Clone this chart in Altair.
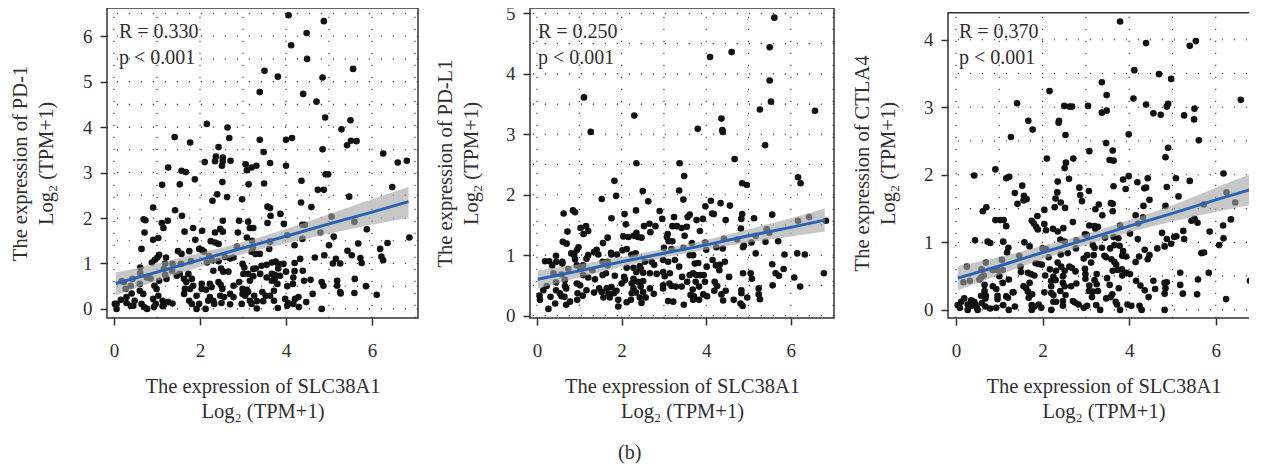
import altair as alt
import pandas as pd

FONT = "Liberation Serif"
INK = "#2f2f2f"

# Panel (a-1): PD-1
p1_x = [4.06,4.88,4.48,4.12,4.49,3.50,3.81,4.85,5.56,3.39,4.40,4.71,4.91,5.50,5.29,2.16,2.64,2.68,1.41,1.77,3.39,4.0,4.14,5.51,5.64,5.42,4.85,2.43,3.48,6.26,6.60,6.81,
2.37,2.53,2.35,2.53,2.71,2.51,2.11,3.06,3.31,3.20,3.09,3.63,4.0,1.26,1.57,1.67,1.88,1.12,1.53,2.52,3.13,3.49,4.36,4.92,4.98,4.74,4.88,6.47,5.47,2.40,2.29,2.63,2.98,4.35,3.57,3.63,4.59,.91,1.42,1.58,3.87,3.64,.69,.73,1.25,1.11,1.15,2.53,2.91,3.12,3.57,3.95,4.38,4.44,5.06,5.59,.71,1.64,1.84,2.05,2.35,2.47,2.53,2.88,3.16,3.24,5.88,4.80,5.11,1.03,.91,1.89,2.25,2.35,2.43,3.09,3.21,4.38,4.03,3.63,6.87,.64,1.49,1.57,1.75,1.98,2.04,2.09,2.86,3.23,3.20,5.68,4.20,5.0,3.61,6.19,6.36,5.43,3.29,3.39,1.05,1.01,1.21,.95,.88,1.79,2.21,2.28,2.16,2.43,2.58,2.70,2.78,4.67,4.89,4.33,5.16,5.53,5.73,6.22,6.26,5.09,5.26,5.76,4.20,
.61,.61,1.19,1.36,1.56,1.16,1.35,1.53,1.46,1.19,1.22,1.05,.76,.85,.60,.39,.23,.18,.27,.43,.94,.99,.60,.41,.68,.29,.06,.16,.02,.06,.48,.45,.29,.39,.64,.70,.77,.91,.97,1.03,1.13,1.16,1.26,1.36,.93,1.13,1.63,1.73,1.81,1.68,1.84,1.65,1.77,1.63,1.92,1.75,1.81,1.98,1.92,2.13,2.04,2.23,2.04,2.14,2.27,2.43,2.48,2.52,2.23,2.31,2.19,2.33,2.47,2.56,2.50,2.70,2.78,2.70,2.97,2.78,2.91,2.99,3.09,2.99,3.12,3.05,3.16,3.26,3.32,3.32,3.20,2.99,3.03,2.31,2.49,2.54,2.66,3.01,3.12,3.24,3.30,3.43,3.55,3.67,3.76,3.82,3.94,3.82,4.0,3.67,3.74,3.16,3.24,3.40,3.55,3.67,3.74,3.86,3.80,3.72,3.45,3.53,3.63,3.47,3.72,3.81,4.03,4.17,4.16,4.20,4.39,4.42,4.57,4.62,4.83,4.87,3.98,4.05,4.03,4.21,4.29,4.17,4.30,4.47,4.83,5.19,5.19,5.60,5.26,5.27,5.59,5.86,6.11]
p1_y = [6.46,6.33,6.07,5.80,5.50,5.24,5.11,5.09,5.28,4.77,4.73,4.56,4.21,4.15,3.95,4.07,3.99,3.76,3.78,3.66,3.72,3.72,3.76,3.70,3.69,3.60,3.51,3.56,3.45,3.42,3.22,3.26,
3.35,3.33,3.25,3.25,3.26,3.15,3.23,3.18,3.15,3.11,3.05,3.21,3.15,3.11,3.04,3.01,2.85,2.73,2.74,2.79,2.74,2.76,2.82,2.96,2.96,2.62,2.62,2.68,2.47,2.52,2.38,2.46,2.41,2.34,2.25,2.22,2.24,2.23,2.17,2.05,2.09,2.05,1.97,1.95,1.94,1.89,1.78,1.94,1.94,1.92,1.89,1.87,1.85,1.85,2.03,1.92,1.68,1.70,1.78,1.72,1.68,1.76,1.70,1.68,1.78,1.78,1.75,1.68,1.59,1.56,1.52,1.52,1.49,1.46,1.43,1.57,1.50,1.54,1.62,1.48,1.57,1.32,1.27,1.21,1.27,1.32,1.30,1.26,1.37,1.35,1.26,1.44,1.40,1.40,1.32,1.32,1.45,1.28,1.21,1.21,1.19,1.13,1.13,1.08,1.02,1.05,1.17,1.07,1.02,1.05,1.14,1.11,1.13,1.13,1.18,1.10,1.10,1.18,1.12,1.15,1.07,1.0,1.0,1.01,1.01,
.91,.79,1.0,.99,.99,.88,.84,.77,.73,.75,.66,.62,.69,.67,.55,.51,.59,.61,.44,.66,.51,.44,.40,.34,.33,.26,.11,.20,.11,0,.18,.07,.13,.07,.11,.04,0,.22,.11,.29,.18,.09,.15,.12,.04,.06,.66,.77,.66,.59,.51,.44,.44,.33,.29,.18,.11,.11,0,0,.55,.55,.44,.42,.48,.59,.53,.44,.26,.18,.18,.11,.29,.26,.13,.33,.26,.10,.11,.51,.59,.44,.42,.33,.37,.29,.18,.29,.01,.17,.11,.99,.91,.84,.89,.82,.82,.77,.77,.88,.89,.95,.97,1.02,1.04,.99,.99,.89,.82,.77,.75,.62,.72,.77,.69,.62,.67,.73,.55,.40,.37,.29,.29,.17,.18,.02,.50,.69,.55,.83,.84,.62,.64,.33,.59,.51,.22,.13,.07,.22,.26,.11,.04,.15,0,.62,.51,.66,.37,.34,.35,.50,.31]

# Panel (a-2): PD-L1
p2_x = [5.61,5.50,4.09,4.60,5.50,5.53,1.11,2.30,5.27,6.57,4.36,1.27,3.80,4.38,4.39,5.39,4.67,2.35,3.37,3.48,6.17,6.23,1.83,4.85,4.96,2.50,3.36,1.87,1.53,3.46,2.63,4.11,3.98,4.34,4.56,.63,.85,.90,2.34,2.07,2.90,4.14,4.18,4.85,5.56,3.61,3.56,3.24,1.76,2.96,3.77,3.92,4.46,4.83,5.13,6.17,6.43,6.83,2.10,2.66,2.53,2.80,3.20,3.31,3.42,3.54,1.16,1.03,1.21,1.10,.72,3.85,2.68,2.35,4.82,5.43,5.49,3.09,2.04,2.16,2.29,2.38,2.47,1.67,3.49,3.07,4.42,5.17,3.11,3.20,4.73,5.70,.61,.70,1.56,3.66,5.40,3.98,5.07,.98,.94,3.0,3.46,4.0,4.24,4.39,4.89,4.87,2.12,2.02,3.18,1.41,1.35,1.45,1.21,1.17,1.75,1.76,1.89,2.23,2.33,.45,.81,.88,.90,.19,.29,.36,.46,.60,.60,.94,1.09,.74,1.02,1.55,1.67,1.31,1.55,1.63,1.67,1.84,2.06,2.12,2.28,2.43,2.55,2.71,2.77,2.98,3.10,3.26,3.36,3.61,3.69,3.73,3.81,4.01,4.15,4.23,4.32,4.44,4.31,5.56,5.64,5.72,5.83,5.85,6.15,6.33,6.08,6.78,6.22,5.57,5.17,4.87,5.05,5.08,4.54,4.20,4.26,4.19,4.36,4.46,4.40,4.65,4.83,4.83,4.97,4.81,4.86,5.24,5.24,5.27,
2.28,2.24,2.28,2.24,2.35,2.45,2.51,2.39,2.51,2.45,2.51,2.34,2.43,2.57,2.47,2.67,2.76,2.67,2.83,2.98,3.02,3.14,2.98,3.13,2.98,3.18,3.28,3.42,3.10,3.22,3.47,3.43,3.55,3.61,3.69,3.77,3.85,3.94,3.75,3.97,3.83,3.68,3.63,3.71,3.69,3.83,3.93,4.02,
.06,.07,.15,.27,.32,.45,.43,.54,.58,.65,.69,.78,.66,.69,.94,1.02,.96,1.08,.95,1.17,1.35,1.09,1.21,1.37,.23,.45,.66,.58,.39,1.47,1.53,1.57,1.65,1.69,1.72,1.76,1.82,1.88,1.92,1.92,2.0,2.08,2.12,2.22]
p2_y = [4.93,4.44,4.28,4.36,3.89,3.54,3.61,3.31,3.41,3.39,3.26,3.04,3.09,3.07,3.04,2.82,2.59,2.52,2.52,2.31,2.29,2.19,2.23,2.19,2.16,2.06,2.07,1.98,1.93,1.92,1.89,1.90,1.81,1.86,1.82,1.69,1.74,1.71,1.74,1.68,1.73,1.69,1.68,1.68,1.67,1.67,1.63,1.63,1.61,1.60,1.58,1.60,1.58,1.60,1.61,1.57,1.63,1.57,1.51,1.52,1.48,1.48,1.48,1.48,1.45,1.47,1.48,1.45,1.40,1.35,1.39,1.40,1.38,1.37,1.44,1.43,1.37,1.35,1.31,1.30,1.32,1.30,1.29,1.29,1.32,1.30,1.27,1.32,1.23,1.23,1.26,1.23,1.22,1.19,1.20,1.20,1.22,1.21,1.21,1.13,1.08,1.12,1.12,1.09,1.13,1.11,1.16,1.13,1.10,1.08,1.10,1.09,1.05,1.01,1.0,.94,1.04,1.01,1.01,1.01,1.03,.99,1.03,1.0,.93,.90,.90,.83,.89,.86,.89,.83,.83,.77,.78,.89,.89,.75,.67,.70,.83,.66,.64,.79,.79,.82,.89,.89,.84,.92,.89,.92,.81,1.0,1.0,.86,.87,.81,.92,.83,.84,.89,.75,.85,.70,.66,.77,1.01,1.03,1.01,.63,.70,.48,.50,1.03,.70,.70,.61,.64,.56,.49,.41,.35,.41,.25,.26,.42,.37,.30,.20,.16,.45,.35,.27,
.61,.53,.45,.37,.72,.78,.71,.56,.57,.48,.39,.38,.30,.30,.21,.45,.36,.70,.69,.72,.65,.70,.50,.53,.45,.49,.48,.48,.24,.23,.18,.64,.56,.67,.70,.67,.67,.67,.56,.56,.48,.43,.34,.32,.26,.26,.35,.32,
.33,.26,.42,.11,.31,.42,.20,.37,.32,.31,.18,.23,.49,.45,.53,.50,.37,.33,.26,.42,.38,.67,.63,.60,.49,.55,.59,.68,.70,.45,.39,.30,.45,.37,.30,.47,.37,.41,.26,.15,.53,.59,.22,.26]

# Panel (a-3): CTLA4
p3_x = [3.79,4.39,5.40,5.54,4.12,4.69,4.97,3.37,2.16,3.48,4.10,6.58,1.41,4.39,4.90,4.87,5.51,2.50,2.62,2.68,3.05,3.37,3.48,4.56,4.73,5.27,5.50,1.67,2.38,2.37,1.77,2.53,3.99,1.27,5.61,3.47,4.90,3.62,3.08,4.84,2.10,2.71,3.55,3.64,2.54,2.51,.91,.42,6.18,1.23,1.16,3.99,3.86,2.61,4.43,5.08,5.40,2.35,4.19,1.53,3.64,2.85,4.35,4.39,4.87,3.92,3.07,2.34,1.36,2.87,1.57,5.14,6.25,2.30,1.63,1.56,4.47,2.91,2.42,1.42,3.58,3.62,3.30,4.33,4.84,6.45,5.72,2.28,2.52,.70,.62,3.22,3.62,2.04,1.88,3.38,4.15,6.35,4.32,.91,1.02,1.10,1.75,1.80,2.70,2.04,4.21,5.44,5.51,5.58,1.16,3.08,3.79,6.17,1.85,2.24,3.20,3.28,1.89,2.08,2.48,2.35,3.22,5.25,5.86,4.02,2.98,3.02,4.76,5.09,5.04,6.85,3.44,3.64,3.75,4.20,4.87,5.27,6.18,.44,.73,.79,1.09,1.58,2.41,2.51,2.78,4.97,6.08,3.66,3.78,3.16,1.70,1.21,2.0,2.08,2.77,3.20,3.37,3.56,4.36,4.65,4.82,1.18,3.86,5.67,5.73,3.93,4.47,1.46,2.42,2.58,3.03,3.18,3.43,2.14,2.95,3.84,4.23,.69,1.06,4.43,4.15,3.12,3.47,3.59,3.66,3.70,2.35,1.84,1.91,1.98,.25,.59,.85,.96,1.08,1.49,1.50,2.17,2.43,2.62,2.68,2.98,3.62,3.74,3.83,3.93,4.02,5.18,5.84,2.31,2.51,2.76,1.66,1.73,1.81,2.06,2.99,3.25,3.84,2.47,2.25,.58,.64,1.0,1.22,2.99,3.20,3.49,5.59,6.79,.17,.32,.54,1.08,1.70,2.20,2.30,2.47,2.78,4.16,4.56,4.82,4.87,.66,.85,1.56,1.62,2.20,2.51,2.66,3.08,3.25,3.55,4.26,5.18,.66,.93,1.66,2.04,2.20,2.41,3.07,3.16,3.28,3.76,4.36,4.60,4.84,1.31,.58,.69,.96,1.16,1.33,1.76,1.68,2.25,2.53,3.14,3.47,3.61,3.57,4.45,4.82,5.24,5.57,6.24,.19,.12,.35,.42,.60,.68,.96,1.20,2.31,2.25,2.47,2.70,2.75,2.83,3.69,3.72,.04,.09,.27,.35,.48,.50,.27,.45,.68,.79,.93,1.09,1.22,1.36,1.75,1.75,1.81,1.91,1.97,2.20,2.47,2.95,3.03,3.24,3.33,3.79,3.96,4.05,4.24,4.29,4.82]
p3_y = [4.27,3.95,3.91,3.98,3.55,3.49,3.42,3.37,3.24,3.18,3.13,3.11,3.06,3.04,3.05,3.01,2.98,3.02,3.01,3.01,3.02,2.92,2.95,2.91,2.89,2.88,2.82,2.80,2.80,2.77,2.67,2.59,2.60,2.56,2.51,2.47,2.40,2.36,2.35,2.26,2.24,2.24,2.22,2.21,2.18,2.10,2.08,1.99,2.02,1.97,1.95,1.98,1.93,1.94,1.95,1.95,1.91,1.90,1.89,1.84,1.83,1.81,1.80,1.81,1.82,1.79,1.76,1.74,1.73,1.70,1.69,1.68,1.74,1.65,1.64,1.62,1.63,1.61,1.59,1.57,1.58,1.57,1.56,1.54,1.54,1.59,1.56,1.52,1.51,1.52,1.46,1.49,1.46,1.48,1.39,1.40,1.40,1.34,1.37,1.33,1.33,1.33,1.32,1.28,1.30,1.27,1.28,1.32,1.35,1.29,1.24,1.25,1.25,1.25,1.23,1.20,1.24,1.23,1.19,1.18,1.21,1.16,1.20,1.17,1.16,1.13,1.12,1.11,1.14,1.09,1.08,1.10,1.07,1.08,1.06,1.05,1.05,1.05,1.06,1.03,1.01,.99,1.01,1.0,1.04,1.01,1.03,.98,.96,.96,.95,.96,.94,.92,.91,.90,.91,.92,.92,.91,.89,.91,.94,.85,.87,.84,.85,.79,.81,.80,.82,.84,.81,.81,.80,.78,.76,.80,.79,.70,.74,.75,.71,.70,.78,.75,.71,.67,.70,.69,.68,.67,.64,.60,.59,.59,.59,.64,.56,.60,.64,.64,.62,.61,.58,.59,.60,.55,.53,.55,.55,.58,.58,.57,.55,.53,.51,.51,.53,.53,.51,.50,.49,.48,.51,.50,.45,.46,.44,.47,.45,.43,.41,.43,.45,.40,.40,.43,.44,.40,.39,.43,.43,.40,.41,.37,.35,.35,.32,.35,.35,.35,.36,.38,.37,.36,.37,.28,.31,.27,.26,.25,.28,.28,.27,.28,.32,.29,.31,.32,.26,.21,.21,.21,.20,.26,.23,.18,.22,.22,.19,.17,.23,.19,.19,.24,.24,.23,.16,.17,.12,.14,.12,.10,.17,.16,.18,.12,.12,.13,.13,.11,.08,.12,.08,.07,.03,0,.06,.03,0,.08,.08,.05,.02,.03,.07,0,.05,.07,0,.05,.08,.03,0,.06,.03,.06,.07,0,0,.08,.06,.06,0,0]

# Fitted lines and confidence bands
band_x1 = [0.04,1,2,3,4,5,6,6.85]
line_1 = [0.56,0.81,1.08,1.34,1.60,1.87,2.13,2.36]
lo_1 = [0.30,0.62,0.93,1.21,1.44,1.66,1.85,2.00]
hi_1 = [0.80,1.00,1.23,1.47,1.76,2.08,2.41,2.68]
band_x2 = [0.02,1,2,3,4,5,6,6.8]
line_2 = [0.60,0.74,0.89,1.03,1.17,1.32,1.46,1.58]
lo_2 = [0.45,0.63,0.81,0.96,1.09,1.21,1.31,1.39]
hi_2 = [0.75,0.85,0.97,1.10,1.25,1.43,1.61,1.77]
band_x3 = [0.04,1,2,3,4,5,6,6.85]
line_3 = [0.47,0.65,0.85,1.04,1.24,1.43,1.63,1.79]
lo_3 = [0.29,0.52,0.75,0.96,1.15,1.31,1.45,1.56]
hi_3 = [0.65,0.78,0.95,1.12,1.33,1.55,1.81,2.02]

x_ticks = [0, 2, 4, 6]
x_grid = [0, 1, 2, 3, 4, 5, 6, 7]
y_grid_1 = [0, .5, 1, 1.5, 2, 2.5, 3, 3.5, 4, 4.5, 5, 5.5, 6, 6.5]
y_grid_2 = [0, .5, 1, 1.5, 2, 2.5, 3, 3.5, 4, 4.5, 5]
y_grid_3 = [0, .5, 1, 1.5, 2, 2.5, 3, 3.5, 4]
x_title = ["The expression of SLC38A1", "Log\u2082 (TPM+1)"]
DASH = [1.2, 10.8]


def panel(px, py, bx, line, lo, hi, xdom, ydom, ygrid, yticks, gene, stat, w, title_pad, text_x, frame_top=None):
    xs = alt.Scale(domain=xdom, nice=False, zero=False)
    ys = alt.Scale(domain=ydom, nice=False, zero=False)
    x_axis = alt.Axis(values=x_ticks, grid=False, domain=False, tickSize=7, tickWidth=1.5, tickColor=INK,
                      labelFont=FONT, labelFontSize=19, labelColor=INK, labelPadding=16, labelAngle=0,
                      title=x_title, titleFont=FONT, titleFontSize=20.5, titleFontWeight="normal",
                      titleColor=INK, titlePadding=16, titleLineHeight=25)
    y_axis = alt.Axis(values=yticks, grid=False, domain=False, tickSize=7, tickWidth=1.5, tickColor=INK,
                      labelFont=FONT, labelFontSize=19, labelColor=INK, labelPadding=8, format="d",
                      title=["The expression of " + gene, "Log\u2082 (TPM+1)"], titleFont=FONT, titleFontSize=20.5,
                      titleFontWeight="normal", titleColor=INK, titlePadding=title_pad, titleLineHeight=26)
    pts_df = pd.DataFrame({"x": px, "y": py})
    band_df = pd.DataFrame({"x": bx, "lo": lo, "hi": hi, "fit": line})
    X = alt.X("x:Q", scale=xs, axis=x_axis)
    top = ydom[1] if frame_top is None else frame_top
    gx = alt.Chart(pd.DataFrame({"x": x_grid, "a": ydom[0], "b": top})).mark_rule(
        color="#333333", strokeWidth=1.1, strokeDash=DASH).encode(
        x=X, y=alt.Y("a:Q", scale=ys, axis=y_axis), y2="b:Q")
    gy = alt.Chart(pd.DataFrame({"v": ygrid})).mark_rule(color="#333333", strokeWidth=1.1, strokeDash=DASH).encode(
        y=alt.Y("v:Q", scale=ys, axis=y_axis))
    points = alt.Chart(pts_df).mark_circle(size=44, opacity=1, color="#111111").encode(
        x=X, y=alt.Y("y:Q", scale=ys, axis=y_axis))
    band = alt.Chart(band_df).mark_area(color="#a5a5a5", opacity=0.62, interpolate="monotone").encode(
        x=X, y=alt.Y("lo:Q", scale=ys, axis=y_axis), y2="hi:Q")
    fit = alt.Chart(band_df).mark_line(color="#2a63b3", strokeWidth=3).encode(
        x=X, y=alt.Y("fit:Q", scale=ys, axis=y_axis))
    r_txt = alt.Chart(pd.DataFrame({"t": [stat]})).mark_text(
        font=FONT, fontSize=20, color=INK, align="left", baseline="middle").encode(
        text="t:N", x=alt.value(text_x), y=alt.value(24))
    p_txt = alt.Chart(pd.DataFrame({"t": ["p < 0.001"]})).mark_text(
        font=FONT, fontSize=20, color=INK, align="left", baseline="middle").encode(
        text="t:N", x=alt.value(text_x), y=alt.value(50))
    layers = [gx, gy, points, band, fit, r_txt, p_txt]
    props = dict(width=w, height=310)
    if frame_top is not None:
        frame = alt.Chart(pd.DataFrame({"x": [xdom[0]], "x2": [xdom[1]], "y": [ydom[0]], "y2": [frame_top]})).mark_rect(
            filled=False, stroke="#333333", strokeWidth=1.5).encode(
            x=X, x2="x2:Q", y=alt.Y("y:Q", scale=ys, axis=y_axis), y2="y2:Q")
        layers.append(frame)
        props["view"] = alt.ViewConfig(stroke=None)
    return alt.layer(*layers).properties(**props)


c1 = panel(p1_x, p1_y, band_x1, line_1, lo_1, hi_1, [-0.163, 7.07], [-0.2, 6.62], y_grid_1, [0, 1, 2, 3, 4, 5, 6],
           "PD-1", "R = 0.330", 311, 26, 12)
c2 = panel(p2_x, p2_y, band_x2, line_2, lo_2, hi_2, [-0.165, 7.02], [-0.04, 5.09], y_grid_2, [0, 1, 2, 3, 4, 5],
           "PD-L1", "R = 0.250", 304, 24, 8)
c3 = panel(p3_x, p3_y, band_x3, line_3, lo_3, hi_3, [-0.185, 7.0], [-0.12, 4.47], y_grid_3, [0, 1, 2, 3, 4],
           "CTLA4", "R = 0.370", 311, 25, 11, frame_top=4.4)

chart = alt.hconcat(alt.hconcat(c1, c2, spacing=14), c3, spacing=16).properties(
    padding={"left": 1, "top": -5, "right": -11, "bottom": 0},
    title=alt.TitleParams(text="(b)", orient="bottom", anchor="middle", font=FONT, fontSize=20,
                          fontWeight="normal", color=INK, offset=21, dx=-5),
).configure_view(stroke="#333333", strokeWidth=1.5)

chart.save("out.html", embed_options={"renderer": "svg", "actions": False})
